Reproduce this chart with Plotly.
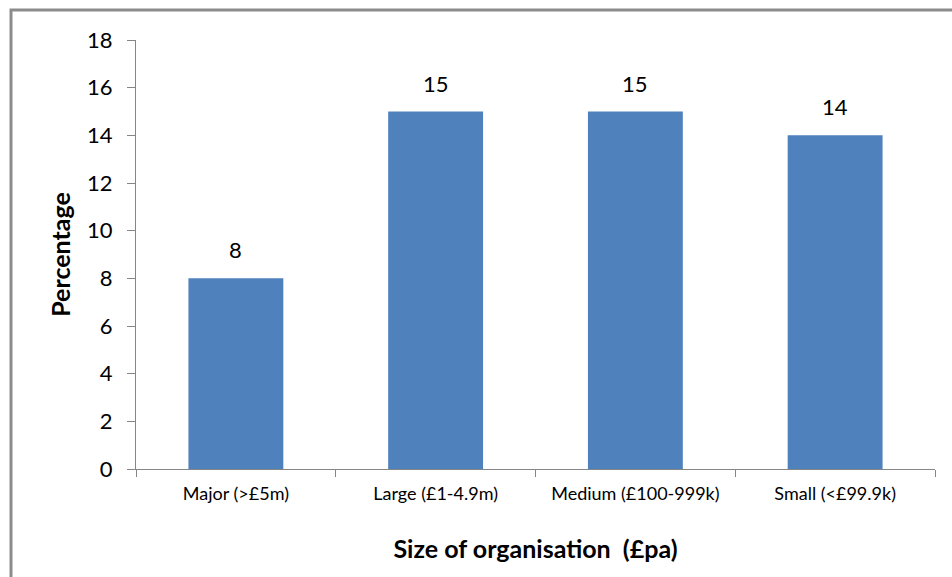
import plotly.graph_objects as go

categories = ["Major (>£5m)", "Large (£1-4.9m)", "Medium (£100-999k)", "Small (<£99.9k)"]
values = [8, 15, 15, 14]
y_ticks = [0, 2, 4, 6, 8, 10, 12, 14, 16, 18]

W, H = 952, 577
L, R, T, B = 136, 17, 40, 108
pw, ph = W - L - R, H - T - B

axis_font = "Lato, Open Sans, sans-serif"

fig = go.Figure(go.Bar(
    x=categories, y=values, width=0.475,
    marker=dict(color="#4F81BD", line=dict(width=0)),
    hoverinfo="x+y",
))

for c, v in zip(categories, values):
    fig.add_annotation(x=c, y=v, text=str(v), showarrow=False,
                       yanchor="bottom", yshift=13,
                       font=dict(family=axis_font, size=22, color="#000000"))

fig.update_layout(
    width=W, height=H,
    margin=dict(l=L, r=R, t=T, b=B),
    paper_bgcolor="white", plot_bgcolor="white",
    showlegend=False,
    xaxis=dict(
        showline=True, linecolor="#868686", linewidth=1,
        ticks="outside", tickson="boundaries", ticklen=7, tickcolor="#868686",
        ticklabelstandoff=8,
        tickfont=dict(family=axis_font, size=18, color="#000000"),
        title=dict(text="<b>Size of organisation  (£pa)</b>", standoff=37,
                   font=dict(family=axis_font, size=25, color="#000000")),
        showgrid=False,
    ),
    yaxis=dict(
        range=[0, 18], tickvals=y_ticks,
        showline=True, linecolor="#868686", linewidth=1,
        ticks="outside", ticklen=8, tickcolor="#868686",
        ticklabelstandoff=10,
        tickfont=dict(family=axis_font, size=22, color="#000000"),
        title=dict(text="<b>Percentage</b>", standoff=9,
                   font=dict(family=axis_font, size=25, color="#000000")),
        showgrid=False, zeroline=False,
    ),
)

fig.add_shape(type="rect", xref="paper", yref="paper",
              x0=(11 - L) / pw, x1=1 + 40 / pw,
              y0=-(B + 40) / ph, y1=1 + (T - 10) / ph,
              line=dict(color="#8C8C8C", width=3), fillcolor="rgba(0,0,0,0)", layer="below")

fig.write_html("out.html", config={"displayModeBar": False},
               post_script="document.body.style.margin='0';document.body.style.overflow='hidden';")
